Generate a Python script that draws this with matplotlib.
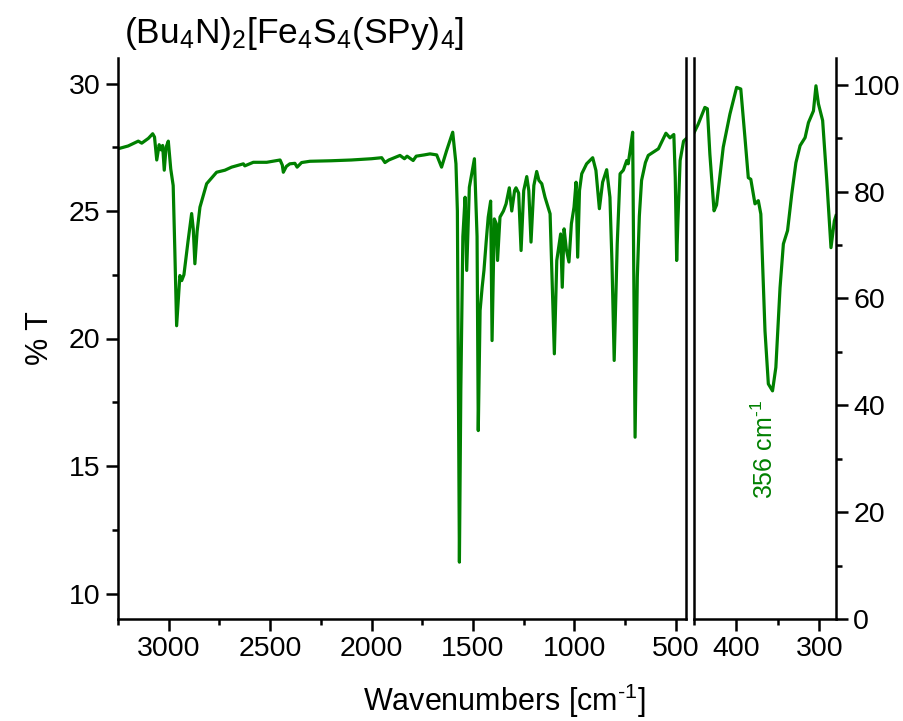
import matplotlib
matplotlib.use('Agg')
import matplotlib.pyplot as plt
from matplotlib.ticker import MultipleLocator

plt.rcParams['font.family'] = ['Liberation Sans', 'DejaVu Sans']
plt.rcParams['mathtext.fontset'] = 'custom'
plt.rcParams['mathtext.rm'] = 'Liberation Sans'
plt.rcParams['mathtext.it'] = 'Liberation Sans:italic'

# mid-IR part, % T on left axis
wn_left = [3250, 3200, 3150, 3133, 3100, 3079, 3070, 3059, 3047, 3038, 3030, 3022, 3013,
           3002, 2990, 2978, 2970, 2961, 2953, 2945, 2936, 2925, 2905, 2887, 2879, 2871,
           2860, 2846, 2813, 2764, 2723, 2690, 2632, 2625, 2583, 2517, 2451, 2440, 2435,
           2420, 2403, 2378, 2367, 2345, 2304, 2200, 2100, 2000, 1950, 1934, 1915, 1860,
           1838, 1825, 1795, 1780, 1740, 1712, 1679, 1655, 1630, 1600, 1584, 1577, 1567,
           1560, 1550, 1539, 1531, 1518, 1505, 1493, 1480, 1474, 1465, 1455, 1446, 1435,
           1425, 1413, 1406, 1395, 1385, 1379, 1367, 1350, 1337, 1321, 1309, 1295, 1288,
           1275, 1263, 1250, 1235, 1225, 1214, 1200, 1186, 1175, 1161, 1145, 1120, 1099,
           1087, 1068, 1060, 1051, 1040, 1027, 1015, 1002, 992, 984, 975, 964, 940, 910,
           894, 877, 861, 841, 825, 815, 804, 789, 775, 759, 742, 735, 723, 713, 706, 701,
           690, 680, 669, 650, 636, 586, 549, 529, 510, 503, 496, 490, 479, 462, 450]
t_left = [27.44, 27.55, 27.74, 27.66, 27.85, 28.03, 27.9, 27.0, 27.6, 27.4, 27.57, 26.6, 27.5,
          27.74, 26.65, 26.0, 23.5, 20.5, 21.5, 22.47, 22.27, 22.5, 23.8, 24.9, 24.3, 22.93,
          24.2, 25.15, 26.07, 26.52, 26.6, 26.72, 26.85, 26.77, 26.91, 26.91, 27.0, 26.8, 26.52,
          26.75, 26.85, 26.87, 26.72, 26.9, 26.95, 26.97, 27.0, 27.05, 27.09, 26.9, 27.0, 27.18,
          27.05, 27.15, 26.98, 27.15, 27.2, 27.24, 27.2, 26.72, 27.37, 28.09, 26.85, 25.0, 11.23,
          18.0, 24.0, 25.54, 22.67, 25.93, 26.5, 27.05, 24.0, 16.39, 21.1, 22.0, 22.67, 23.8,
          24.76, 25.39, 19.92, 24.69, 24.5, 23.06, 24.76, 25.0, 25.28, 25.91, 25.0, 25.8, 25.91,
          25.7, 23.45, 25.8, 26.35, 25.8, 23.78, 26.0, 26.55, 26.2, 26.07, 25.54, 24.89, 19.4,
          23.06, 24.1, 22.01, 24.3, 23.5, 23.0, 24.5, 25.15, 26.13, 23.19, 25.8, 26.46, 26.85, 27.09,
          26.59, 25.09, 26.13, 26.62, 25.54, 23.0, 19.14, 23.71, 26.46, 26.6, 26.98, 26.85, 27.5, 28.09, 21.1, 16.13,
          22.4, 24.8, 26.2, 26.9, 27.18, 27.44, 28.05, 27.87, 28.0, 26.33, 23.06, 24.6, 26.98, 27.74, 27.83]

# far-IR part, % T on right axis
wn_right = [450, 445, 437, 434, 431, 426, 423, 415, 407, 399, 394, 389, 385, 382, 377, 373,
            370, 365, 361, 356, 352, 347, 343, 338, 333, 328, 323, 317, 313, 307, 304, 301,
            296, 291, 286, 282, 280]
t_right = [91.0, 92.6, 95.75, 95.5, 87.0, 76.4, 77.5, 88.3, 94.5, 99.5, 99.2, 90.1, 82.6, 82.3,
           77.7, 78.3, 75.8, 53.9, 44.0, 42.7, 47.1, 62.0, 70.2, 72.7, 79.5, 85.4, 88.6, 90.1,
           92.9, 95.1, 99.8, 96.4, 93.3, 82.0, 69.5, 74.5, 75.5]

fs_tick = 20.5
fs_lab = 22
W, H = 904, 721
fig = plt.figure(figsize=(W / 100, H / 100), dpi=100)
ax1 = fig.add_axes([118 / W, 102 / H, 568 / W, 561 / H])
ax2 = fig.add_axes([694 / W, 102 / H, 142 / W, 561 / H])

ax1.plot(wn_left, t_left, color='green', lw=2.3)
ax2.plot(wn_right, t_right, color='green', lw=2.3)

ax1.set_xlim(3250, 450)
ax1.set_ylim(9, 31)
ax1.xaxis.set_major_locator(MultipleLocator(500))
ax1.xaxis.set_minor_locator(MultipleLocator(250))
ax1.yaxis.set_major_locator(MultipleLocator(5))
ax1.yaxis.set_minor_locator(MultipleLocator(2.5))

ax2.set_xlim(450, 280)
ax2.set_ylim(0, 105)
ax2.xaxis.set_major_locator(MultipleLocator(100))
ax2.xaxis.set_minor_locator(MultipleLocator(50))
ax2.yaxis.set_major_locator(MultipleLocator(20))
ax2.yaxis.set_minor_locator(MultipleLocator(10))
ax2.yaxis.tick_right()

for ax in (ax1, ax2):
    ax.spines['top'].set_visible(False)
    for s in ('left', 'right', 'bottom'):
        ax.spines[s].set_linewidth(1.8)
    ax.tick_params(which='major', direction='out', length=8.5, width=1.8, labelsize=fs_tick, pad=4)
    ax.tick_params(which='minor', direction='out', length=4.5, width=1.8)

ax1.set_ylabel('% T', fontsize=fs_lab, labelpad=10)

ax2.text(365, 41, r'356 cm$^{\text{-}1}$', rotation=90, color='green', fontsize=18,
         ha='center', va='top')

fig.text(124 / W, 1 - 34 / H, r'$\mathregular{(Bu_4N)_2[Fe_4S_4(SPy)_4]}$',
         fontsize=25.5, ha='left', va='center')
fig.text(504 / W, 1 - 701 / H, r'Wavenumbers [cm$^{\text{-}1}$]', fontsize=fs_lab,
         ha='center', va='center')

fig.savefig('out.png', dpi=100)
